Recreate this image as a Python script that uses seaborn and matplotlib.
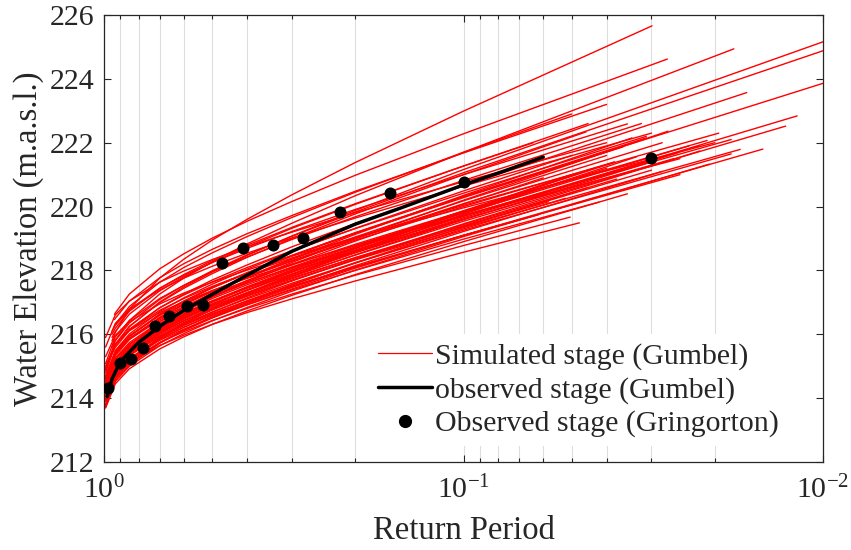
import numpy as np
import pandas as pd
import matplotlib
matplotlib.use('Agg')
import matplotlib.pyplot as plt
from matplotlib.lines import Line2D
from matplotlib.ticker import NullFormatter, LogLocator
import seaborn as sns

sns.set_style('ticks')
plt.rcParams['font.family'] = ['Liberation Serif', 'DejaVu Serif']
plt.rcParams['mathtext.fontset'] = 'custom'
plt.rcParams['mathtext.rm'] = 'Liberation Serif'
plt.rcParams['mathtext.it'] = 'Liberation Serif:italic'

# exceedance probability at which every simulated curve was read
grid_p = [0.93, 0.85, 0.7, 0.6, 0.5, 0.4, 0.3, 0.2, 0.1]

# simulated Gumbel stage curves: start point, values on grid_p, end point
sim_start_p = [0.99] * 34 + [0.95, 0.935, 0.95, 0.97, 0.99, 0.95, 0.99, 0.99,
                             0.99, 0.95, 0.935, 0.95, 0.935, 0.95] + [0.99] * 14
sim_start_y = [214.04, 214.06, 214.19, 213.90, 213.76, 214.12, 214.20, 214.43,
               214.57, 214.58, 214.23, 214.17, 214.33, 214.64, 214.94, 214.61,
               214.85, 213.73, 214.26, 213.72, 214.07, 214.06, 214.31, 214.24,
               214.51, 213.81, 213.69, 214.63, 215.08, 214.79, 215.60, 215.90,
               215.30, 215.00,
               215.80, 216.62, 215.60, 215.20, 214.90, 215.40, 214.60, 214.30,
               214.20, 216.00, 216.26, 216.10, 216.46, 215.90,
               214.11, 214.13, 213.91, 214.47, 213.98, 214.07, 214.48, 214.64,
               213.79, 214.37, 214.16, 213.93, 214.71, 214.24]
sim_grid_y = [
    [214.70, 215.10, 215.65, 215.97, 216.31, 216.68, 217.11, 217.67, 218.57],
    [214.75, 215.17, 215.74, 216.08, 216.43, 216.81, 217.26, 217.85, 218.78],
    [214.90, 215.34, 215.93, 216.28, 216.65, 217.04, 217.51, 218.12, 219.10],
    [214.65, 215.12, 215.74, 216.12, 216.51, 216.93, 217.42, 218.07, 219.10],
    [214.53, 215.00, 215.64, 216.02, 216.42, 216.84, 217.35, 218.01, 219.06],
    [214.87, 215.33, 215.95, 216.32, 216.70, 217.11, 217.60, 218.24, 219.26],
    [214.99, 215.48, 216.13, 216.53, 216.93, 217.37, 217.89, 218.57, 219.65],
    [215.21, 215.69, 216.34, 216.72, 217.12, 217.55, 218.06, 218.73, 219.79],
    [215.37, 215.87, 216.53, 216.93, 217.34, 217.78, 218.31, 218.99, 220.09],
    [215.42, 215.93, 216.62, 217.03, 217.46, 217.92, 218.47, 219.18, 220.32],
    [215.12, 215.66, 216.40, 216.84, 217.30, 217.79, 218.37, 219.13, 220.35],
    [214.93, 215.41, 216.04, 216.42, 216.81, 217.24, 217.74, 218.40, 219.44],
    [215.11, 215.59, 216.24, 216.62, 217.02, 217.45, 217.96, 218.63, 219.69],
    [215.38, 215.84, 216.45, 216.82, 217.19, 217.61, 218.09, 218.72, 219.73],
    [215.68, 216.14, 216.75, 217.12, 217.50, 217.91, 218.39, 219.02, 220.04],
    [215.43, 215.94, 216.62, 217.03, 217.45, 217.91, 218.45, 219.16, 220.28],
    [215.66, 216.16, 216.83, 217.23, 217.64, 218.09, 218.62, 219.31, 220.42],
    [214.62, 215.17, 215.90, 216.34, 216.79, 217.29, 217.87, 218.62, 219.84],
    [215.06, 215.56, 216.23, 216.63, 217.04, 217.49, 218.01, 218.70, 219.81],
    [214.54, 215.04, 215.72, 216.13, 216.55, 217.00, 217.54, 218.24, 219.36],
    [214.87, 215.37, 216.03, 216.43, 216.84, 217.28, 217.81, 218.49, 219.59],
    [214.80, 215.25, 215.85, 216.22, 216.59, 217.00, 217.47, 218.10, 219.10],
    [215.08, 215.55, 216.19, 216.57, 216.96, 217.39, 217.89, 218.55, 219.60],
    [215.09, 215.61, 216.31, 216.73, 217.17, 217.64, 218.19, 218.92, 220.08],
    [215.33, 215.84, 216.52, 216.93, 217.35, 217.81, 218.35, 219.05, 220.18],
    [214.60, 215.08, 215.73, 216.13, 216.53, 216.96, 217.48, 218.15, 219.22],
    [214.45, 214.92, 215.54, 215.92, 216.31, 216.73, 217.22, 217.87, 218.90],
    [215.49, 216.01, 216.71, 217.14, 217.57, 218.04, 218.60, 219.32, 220.49],
    [215.92, 216.43, 217.12, 217.53, 217.96, 218.42, 218.97, 219.68, 220.82],
    [215.69, 216.25, 216.99, 217.44, 217.90, 218.41, 219.00, 219.77, 221.00],
    [216.34, 216.79, 217.39, 217.76, 218.13, 218.54, 219.02, 219.64, 220.64],
    [216.61, 217.04, 217.63, 217.98, 218.34, 218.74, 219.20, 219.81, 220.78],
    [215.97, 216.39, 216.95, 217.29, 217.63, 218.01, 218.45, 219.03, 219.96],
    [215.69, 216.11, 216.68, 217.02, 217.37, 217.75, 218.20, 218.78, 219.72],
    [216.06, 216.79, 217.76, 218.35, 218.95, 219.60, 220.37, 221.38, 222.99],
    [216.67, 217.26, 218.05, 218.52, 219.01, 219.54, 220.16, 220.98, 222.28],
    [215.82, 216.43, 217.26, 217.76, 218.27, 218.83, 219.48, 220.34, 221.70],
    [215.67, 216.24, 217.01, 217.48, 217.95, 218.47, 219.08, 219.88, 221.16],
    [215.80, 216.35, 217.09, 217.53, 217.99, 218.49, 219.07, 219.83, 221.06],
    [215.59, 216.12, 216.83, 217.26, 217.70, 218.17, 218.74, 219.47, 220.65],
    [215.43, 215.94, 216.63, 217.04, 217.47, 217.93, 218.47, 219.18, 220.31],
    [215.09, 215.57, 216.22, 216.61, 217.02, 217.45, 217.97, 218.64, 219.71],
    [214.98, 215.46, 216.10, 216.48, 216.88, 217.31, 217.82, 218.48, 219.54],
    [216.19, 216.72, 217.44, 217.87, 218.31, 218.79, 219.35, 220.09, 221.27],
    [216.31, 216.87, 217.63, 218.09, 218.55, 219.06, 219.66, 220.45, 221.70],
    [216.28, 216.77, 217.44, 217.84, 218.25, 218.69, 219.22, 219.91, 221.00],
    [216.50, 217.04, 217.77, 218.21, 218.66, 219.15, 219.72, 220.48, 221.68],
    [216.09, 216.63, 217.36, 217.80, 218.25, 218.74, 219.32, 220.07, 221.27],
    [214.88, 215.35, 215.99, 216.37, 216.76, 217.19, 217.69, 218.35, 219.40],
    [214.96, 215.48, 216.17, 216.58, 217.01, 217.47, 218.02, 218.73, 219.87],
    [214.71, 215.21, 215.88, 216.28, 216.69, 217.14, 217.67, 218.36, 219.46],
    [215.22, 215.68, 216.30, 216.67, 217.05, 217.46, 217.95, 218.59, 219.61],
    [214.83, 215.36, 216.06, 216.49, 216.92, 217.39, 217.95, 218.68, 219.84],
    [214.78, 215.22, 215.81, 216.16, 216.53, 216.92, 217.39, 218.00, 218.98],
    [215.26, 215.74, 216.39, 216.77, 217.17, 217.60, 218.11, 218.78, 219.85],
    [215.40, 215.87, 216.49, 216.87, 217.26, 217.68, 218.17, 218.82, 219.86],
    [214.66, 215.19, 215.91, 216.34, 216.78, 217.26, 217.83, 218.57, 219.76],
    [215.10, 215.55, 216.15, 216.52, 216.89, 217.29, 217.77, 218.40, 219.39],
    [215.04, 215.58, 216.30, 216.74, 217.19, 217.68, 218.25, 219.00, 220.20],
    [214.71, 215.19, 215.84, 216.22, 216.62, 217.05, 217.56, 218.23, 219.30],
    [215.48, 215.95, 216.59, 216.97, 217.36, 217.79, 218.29, 218.95, 220.00],
    [214.98, 215.44, 216.05, 216.42, 216.80, 217.21, 217.69, 218.33, 219.34],
]
sim_end_p = [0.0476, 0.0505, 0.062, 0.0147, 0.0207, 0.018, 0.0254, 0.0236,
             0.028, 0.031, 0.034, 0.0375, 0.022, 0.018, 0.0195, 0.036,
             0.031, 0.05, 0.04, 0.045, 0.03, 0.025, 0.055, 0.06,
             0.04, 0.028, 0.035, 0.05, 0.032, 0.0456, 0.03, 0.04,
             0.02, 0.025,
             0.0299, 0.0271, 0.0177, 0.01, 0.01, 0.0163, 0.01, 0.0118,
             0.0127, 0.064, 0.05, 0.035, 0.04, 0.045,
             0.03, 0.045, 0.022, 0.026, 0.038, 0.042, 0.05, 0.021,
             0.033, 0.058, 0.027, 0.052, 0.038, 0.017]
sim_end_y = [219.49, 219.67, 219.74, 221.80, 221.33, 221.65, 221.68, 221.90,
             222.00, 222.15, 222.15, 220.86, 221.90, 222.10, 222.30, 221.87,
             222.20, 221.00, 221.20, 220.60, 221.40, 221.00, 220.47, 220.90,
             221.60, 221.10, 220.40, 221.60, 222.60, 222.34, 222.30, 222.00,
             222.00, 221.50,
             225.66, 224.62, 224.94, 225.16, 224.88, 223.57, 223.86, 222.84,
             222.52, 222.00, 222.90, 222.59, 223.20, 222.60,
             221.14, 221.13, 221.74, 221.50, 221.39, 220.14, 220.87, 222.07,
             221.56, 220.15, 222.36, 220.26, 221.40, 221.79]

# observed stage, Gumbel fit
obs_p = [0.98, 0.95, 0.9, 0.8, 0.7, 0.6, 0.5, 0.4, 0.3, 0.2, 0.15, 0.1, 0.08, 0.06]
obs_y = [214.05, 214.6, 215.15, 215.75, 216.25, 216.75, 217.25, 217.85, 218.6,
         219.45, 219.95, 220.68, 221.05, 221.55]

# observed stage, Gringorton plotting positions
gr_p = [0.975, 0.903, 0.841, 0.779, 0.721, 0.66, 0.588, 0.531, 0.47, 0.411,
        0.339, 0.28, 0.221, 0.16, 0.1, 0.03]
gr_y = [214.32, 215.1, 215.23, 215.57, 216.26, 216.57, 216.89, 216.92, 218.23,
        218.7, 218.8, 219.02, 219.83, 220.43, 220.77, 221.52]

rows = []
for i in range(len(sim_start_p)):
    ps = [sim_start_p[i]] + grid_p + [sim_end_p[i]]
    ys = [sim_start_y[i]] + sim_grid_y[i] + [sim_end_y[i]]
    for p, y in zip(ps, ys):
        rows.append((i, p, y))
sim = pd.DataFrame(rows, columns=['run', 'p', 'stage'])
obs = pd.DataFrame({'p': obs_p, 'stage': obs_y})
gr = pd.DataFrame({'p': gr_p, 'stage': gr_y})

dark = '#262626'
fig = plt.figure(figsize=(8.51, 5.50), dpi=100)
ax = fig.add_axes([104 / 851, 1 - 462 / 550, 719 / 851, 447 / 550])
ax.set_xscale('log')

sns.lineplot(data=sim, x='p', y='stage', units='run', estimator=None, sort=False,
             color='#ff0000', lw=1.0, ax=ax, legend=False)
sns.lineplot(data=obs, x='p', y='stage', sort=False, color='black', lw=2.5,
             ax=ax, legend=False)
sns.scatterplot(data=gr, x='p', y='stage', color='black', s=75, edgecolor='black',
                linewidth=0, ax=ax, legend=False, zorder=5)

ax.set_xlim(1, 0.01)
ax.set_ylim(212, 226)
ax.set_yticks(np.arange(212, 227, 2))
ax.set_xticks([1, 0.1, 0.01])
ax.set_xticklabels([r'$10^{0}$', r'$10^{-1}$', r'$10^{-2}$'])
ax.xaxis.set_minor_locator(LogLocator(base=10, subs=np.arange(2, 10)))
ax.xaxis.set_minor_formatter(NullFormatter())

ax.grid(True, which='both', axis='x', color='#dedede', lw=0.8)
ax.set_axisbelow(True)
ax.tick_params(which='both', direction='in', top=True, right=True, colors=dark,
               labelsize=21.5, width=0.8)
ax.tick_params(which='major', length=5)
ax.tick_params(which='minor', length=3)
ax.tick_params(axis='x', pad=10)
ax.tick_params(axis='y', pad=7)
for s in ax.spines.values():
    s.set_color(dark)
    s.set_linewidth(0.9)

ax.set_xlabel('Return Period', fontsize=23.5, color=dark, labelpad=8)
ax.set_ylabel('Water Elevation (m.a.s.l.)', fontsize=23.5, color=dark, labelpad=4)

handles = [Line2D([], [], color='#ff0000', lw=0.9),
           Line2D([], [], color='black', lw=2.5),
           Line2D([], [], color='black', lw=0, marker='o', markersize=8.5)]
labels = ['Simulated stage (Gumbel)', 'observed stage (Gumbel)',
          'Observed stage (Gringorton)']
leg = ax.legend(handles, labels, loc='lower right', bbox_to_anchor=(0.951, 0.035),
                fontsize=21.5, frameon=True, fancybox=False, framealpha=1,
                facecolor='white', edgecolor='none', handlelength=1.8,
                handletextpad=0.1, labelspacing=0.22, borderpad=0.3,
                borderaxespad=0)

fig.savefig('out.png', dpi=100)
